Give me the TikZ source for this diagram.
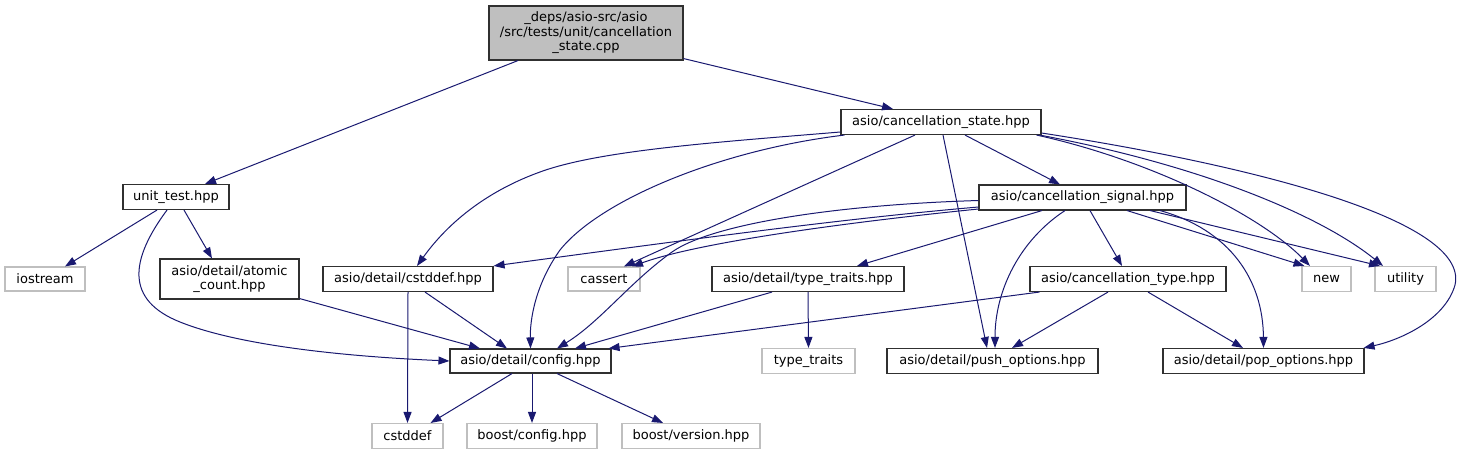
\documentclass[tikz,border=0pt]{standalone}
\usepackage{fontspec}
\setmainfont{DejaVu Sans}
\usetikzlibrary{arrows.meta}
\definecolor{edgeblue}{HTML}{191970}
\definecolor{grey75}{HTML}{BFBFBF}
\definecolor{boxline}{HTML}{303030}
\tikzset{
  every node/.style={font=\fontsize{13}{14.5}\selectfont, inner sep=0pt, align=center},
  hdr/.style={draw=boxline, line width=1.1pt, fill=white, minimum height=25pt},
  ext/.style={draw=grey75, line width=1.1pt, fill=white, minimum height=25pt},
  rootbox/.style={draw=boxline, line width=1.1pt, fill=grey75},
  dep/.style={draw=edgeblue, line width=1pt, -{Triangle[length=11pt,width=8pt]}},
}
\begin{document}
\begin{tikzpicture}[x=1pt,y=-1pt]
\useasboundingbox (0,0) rectangle (1461,455);
% nodes
\node[rootbox, minimum width=194pt, minimum height=54pt] (root) at (586,33) {\_deps/asio-src/asio\\/src/tests/unit/cancellation\\\_state.cpp};
\node[hdr, minimum width=200pt] (cs) at (941,122) {asio/cancellation\_state.hpp};
\node[hdr, minimum width=106pt] (ut) at (176,197) {unit\_test.hpp};
\node[ext, minimum width=80pt, minimum height=24pt] (ios) at (45,279) {iostream};
\node[hdr, minimum width=139pt, minimum height=40pt] (atc) at (229.5,279) {asio/detail/atomic\\\_count.hpp};
\node[hdr, minimum width=170pt] (cstdh) at (408,279) {asio/detail/cstddef.hpp};
\node[ext, minimum width=72pt, minimum height=24pt] (cassert) at (604,279) {cassert};
\node[hdr, minimum width=192pt] (tth) at (808,279) {asio/detail/type\_traits.hpp};
\node[hdr, minimum width=207pt] (csig) at (1082.5,197.5) {asio/cancellation\_signal.hpp};
\node[hdr, minimum width=196pt] (ctype) at (1128,279) {asio/cancellation\_type.hpp};
\node[ext, minimum width=49pt] (new) at (1326.5,279) {new};
\node[ext, minimum width=61pt] (util) at (1405.5,279) {utility};
\node[hdr, minimum width=161pt, minimum height=24pt] (config) at (530.5,361) {asio/detail/config.hpp};
\node[ext, minimum width=93pt] (ttraits) at (808.5,361) {type\_traits};
\node[hdr, minimum width=211pt] (push) at (992.5,361) {asio/detail/push\_options.hpp};
\node[hdr, minimum width=201pt] (pop) at (1263.5,361) {asio/detail/pop\_options.hpp};
\node[ext, minimum width=71pt] (cstddef) at (407.5,436) {cstddef};
\node[ext, minimum width=130pt] (bconf) at (532,436) {boost/config.hpp};
\node[ext, minimum width=138pt] (bver) at (691,436) {boost/version.hpp};
% edges from root
\draw[dep] ([xshift=-68pt]root.south) -- ([xshift=29pt]ut.north);
\draw[dep] ([yshift=2pt]root.south east) -- ([xshift=-48pt]cs.north);
% edges from cancellation_state
\draw[dep] ([yshift=-10pt]cs.west) .. controls (720,142) and (600,150) .. (540,172) .. controls (490,190) and (450,220) .. ([xshift=9pt]cstdh.north);
\draw[dep] ([xshift=4pt]cs.south west) .. controls (720,150) and (600,200) .. (560,250) .. controls (535,285) and (530,320) .. (config.north);
\draw[dep] ([xshift=-26pt]cs.south) -- ([xshift=20pt]cassert.north);
\draw[dep] ([xshift=2pt]cs.south) -- ([xshift=-5.5pt]push.north);
\draw[dep] ([xshift=24pt]cs.south) -- ([xshift=-22.5pt]csig.north);
\draw[dep] ([xshift=-5pt]cs.south east) .. controls (1150,160) and (1260,215) .. ([xshift=-16.5pt]new.north);
\draw[dep] ([xshift=-2pt]cs.south east) .. controls (1200,165) and (1320,215) .. ([xshift=-22.5pt]util.north);
\draw[dep] ([yshift=-11pt]cs.east) .. controls (1250,165) and (1470,220) .. (1455,285) .. controls (1445,320) and (1400,340) .. ([xshift=-1pt]pop.north east);
% edges from cancellation_signal
\draw[dep] ([yshift=-9.5pt]csig.west) .. controls (850,218) and (700,238) .. ([xshift=0pt]cstdh.north east);
\draw[dep] ([yshift=-11.5pt]csig.west) .. controls (850,222) and (700,242) .. ([xshift=28pt]cassert.north);
\draw[dep] ([yshift=-3pt]csig.west) .. controls (830,205) and (710,225) .. (672,252) .. controls (630,282) and (600,322) .. ([xshift=26.5pt]config.north);
\draw[dep] ([xshift=-40.5pt]csig.south) -- ([xshift=49pt]tth.north);
\draw[dep] ([xshift=-17.5pt]csig.south) .. controls (1020,240) and (995,290) .. ([xshift=2.5pt]push.north);
\draw[dep] ([xshift=7.5pt]csig.south) -- ([xshift=-6pt]ctype.north);
\draw[dep] ([xshift=44.5pt]csig.south) -- ([xshift=-22pt]new.north);
\draw[dep] ([xshift=67.5pt]csig.south) -- ([xshift=-25.5pt]util.north);
\draw[dep] ([xshift=77.5pt]csig.south) .. controls (1230,230) and (1263,280) .. (pop.north);
% type_traits.hpp
\draw[dep] ([xshift=-36pt]tth.south) -- ([xshift=44.5pt]config.north);
\draw[dep] (tth.south) -- (ttraits.north);
% cancellation_type
\draw[dep] ([xshift=10pt]ctype.south west) -- ([xshift=-3pt]config.north east);
\draw[dep] ([xshift=-20pt]ctype.south) -- ([xshift=19.5pt]push.north);
\draw[dep] ([xshift=20pt]ctype.south) -- ([xshift=-20.5pt]pop.north);
% unit_test
\draw[dep] ([xshift=-19pt]ut.south) -- ([xshift=20pt]ios.north);
\draw[dep] ([xshift=8pt]ut.south) -- ([xshift=-17.5pt]atc.north);
\draw[dep] ([xshift=-9pt]ut.south) .. controls (130,260) and (125,300) .. (180,322) .. controls (250,350) and (380,358) .. (config.west);
% atomic_count, cstddef.hpp
\draw[dep] ([yshift=1pt]atc.south east) -- ([xshift=-50.5pt]config.north);
\draw[dep] ([xshift=17pt]cstdh.south) -- ([xshift=-23.5pt]config.north);
\draw[dep] (cstdh.south) -- (cstddef.north);
% config
\draw[dep] ([xshift=-18.5pt]config.south) -- ([xshift=-13pt]cstddef.north east);
\draw[dep] ([xshift=1.5pt]config.south) -- (bconf.north);
\draw[dep] ([xshift=26.5pt]config.south) -- ([xshift=-28pt]bver.north);
\end{tikzpicture}
\end{document}
